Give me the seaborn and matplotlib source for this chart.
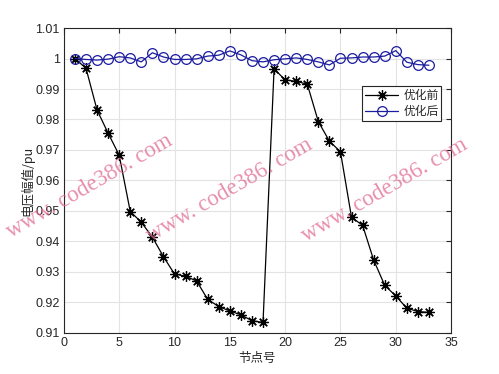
import numpy as np
import pandas as pd
import seaborn as sns
import matplotlib
matplotlib.use("Agg")
import matplotlib.pyplot as plt

nodes = list(range(1, 34))
before = [1.0000, 0.9968, 0.9831, 0.9755, 0.9683, 0.9498, 0.9463, 0.9414, 0.9350, 0.9293,
          0.9286, 0.9270, 0.9210, 0.9186, 0.9172, 0.9159, 0.9140, 0.9134, 0.9966, 0.9930,
          0.9925, 0.9916, 0.9793, 0.9729, 0.9694, 0.9479, 0.9453, 0.9339, 0.9256, 0.9221,
          0.9181, 0.9170, 0.9167]
after = [1.0000, 0.9997, 0.9995, 0.9998, 1.0006, 1.0002, 0.9989, 1.0019, 1.0005, 0.9997,
         0.9997, 0.9999, 1.0008, 1.0011, 1.0025, 1.0012, 0.9993, 0.9989, 0.9996, 0.9999,
         1.0002, 0.9997, 0.9989, 0.9979, 1.0001, 1.0002, 1.0005, 1.0005, 1.0008, 1.0026,
         0.9988, 0.9980, 0.9978]
labels = ["优化前", "优化后"]
xticks = [0, 5, 10, 15, 20, 25, 30, 35]
yticks = [0.91, 0.92, 0.93, 0.94, 0.95, 0.96, 0.97, 0.98, 0.99, 1.0, 1.01]
ytick_labels = ["0.91", "0.92", "0.93", "0.94", "0.95", "0.96", "0.97", "0.98", "0.99", "1", "1.01"]

sns.set_theme(style="white")
plt.rcParams['font.family'] = ['Noto Sans CJK SC', 'DejaVu Sans']

df = pd.DataFrame({"node": nodes * 2, "v": before + after,
                   "series": [labels[0]] * len(nodes) + [labels[1]] * len(nodes)})

fig = plt.figure(figsize=(4.99, 3.74), dpi=100)
ax = fig.add_axes([0.128, 0.110, 0.776, 0.815])

sns.lineplot(data=df[df.series == labels[0]], x="node", y="v", ax=ax, color="black",
             marker=(8, 2, 0), markersize=7.5, markeredgewidth=0.9, linewidth=0.9,
             label=labels[0], markeredgecolor="black")
sns.lineplot(data=df[df.series == labels[1]], x="node", y="v", ax=ax, color="#1c1ca0",
             marker="o", markersize=7, markerfacecolor="none", markeredgecolor="#1c1ca0",
             markeredgewidth=0.9, linewidth=0.9, label=labels[1])

ax.set_xlim(0, 35)
ax.set_ylim(0.91, 1.01)
ax.set_xticks(xticks)
ax.set_xticklabels([str(t) for t in xticks], family="Liberation Sans")
ax.set_yticks(yticks)
ax.set_yticklabels(ytick_labels, family="Liberation Sans")
ax.grid(True, color="#e3e3e3", linewidth=0.8)
ax.tick_params(direction="in", length=3.5, width=0.8, labelsize=9, colors="#262626",
               top=True, right=True, labeltop=False, labelright=False, pad=3)
for s in ax.spines.values():
    s.set_color("#262626")
    s.set_linewidth(0.8)

ax.set_xlabel("节点号", fontsize=9, color="#262626", labelpad=2)
ax.set_ylabel("电压幅值/pu", fontsize=9, color="#262626", labelpad=1)

leg = ax.legend(loc="upper right", bbox_to_anchor=(0.975, 0.81), fontsize=8.5,
                frameon=True, fancybox=False, edgecolor="#262626", framealpha=1,
                handlelength=2.8, borderpad=0.25, labelspacing=0.25, handletextpad=0.4,
                borderaxespad=0.0)
leg.get_frame().set_linewidth(0.8)

for (cx, cy) in [(90, 186), (230, 190), (385, 190)]:
    fig.text(cx / 499, 1 - cy / 374, "www. code386. com", fontsize=16.5, color="#e06a90",
             alpha=0.75, rotation=30, ha="center", va="center", family="Liberation Serif")

fig.savefig("out.png", dpi=100)
